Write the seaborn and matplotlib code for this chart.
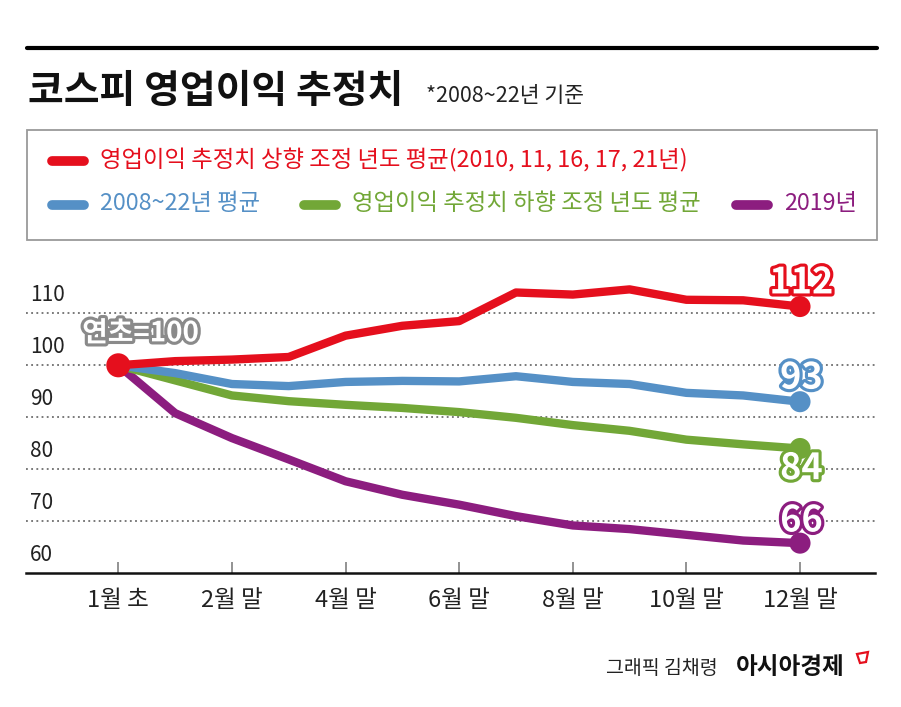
import matplotlib
matplotlib.use("Agg")
import matplotlib.pyplot as plt
import matplotlib.patheffects as pe
from matplotlib.lines import Line2D
from matplotlib.patches import Rectangle, Polygon
import seaborn as sns
import pandas as pd

# ---- data ----
months = ['1월 초', '1월 말', '2월 말', '3월 말', '4월 말', '5월 말', '6월 말',
          '7월 말', '8월 말', '9월 말', '10월 말', '11월 말', '12월 말']
tick_months = ['1월 초', '2월 말', '4월 말', '6월 말', '8월 말', '10월 말', '12월 말']
y_ticks = [60, 70, 80, 90, 100, 110]

upward = [100, 100.8, 101.1, 101.6, 105.7, 107.6, 108.5, 114.0, 113.6, 114.6, 112.6, 112.5, 111.3]
average = [100, 98.5, 96.4, 96.0, 96.8, 97.0, 96.9, 97.9, 96.8, 96.4, 94.7, 94.2, 93.0]
downward = [100, 97.1, 94.2, 93.1, 92.4, 91.8, 91.0, 89.9, 88.5, 87.4, 85.7, 84.8, 84.0]
y2019 = [100, 90.8, 86.0, 81.9, 77.7, 75.1, 73.2, 71.0, 69.2, 68.5, 67.4, 66.3, 65.8]

series_names = ['영업이익 추정치 상향 조정 년도 평균(2010, 11, 16, 17, 21년)',
                '2008~22년 평균',
                '영업이익 추정치 하향 조정 년도 평균',
                '2019년']
end_labels = ['112', '93', '84', '66']
colors = ['#e50f1d', '#5590c6', '#72a737', '#8c1d7f']

FONT = ['Noto Sans CJK KR', 'DejaVu Sans']
W, H = 901, 707


def fpx(x, y):
    """pixel position (from top-left) -> figure fraction"""
    return x / W, 1 - y / H


sns.set_theme(style="white")
plt.rcParams['font.family'] = FONT

fig = plt.figure(figsize=(W / 100, H / 100), dpi=100)
ax = fig.add_axes([26 / W, (H - 573.3) / H, (875 - 26) / W, (573.3 - 255) / H])

values = [upward, average, downward, y2019]
frames = []
for name, vals in zip(series_names, values):
    frames.append(pd.DataFrame({'idx': range(len(months)), 'month': months,
                                'value': vals, 'series': name}))
df = pd.concat(frames, ignore_index=True)

# gridlines
for yv in y_ticks[1:]:
    ax.axhline(yv, color='#555555', lw=1.1, ls=(0, (1.2, 2.2)), zorder=1)

# lines: purple first, red last (on top)
draw_order = [3, 2, 1, 0]
for z, k in enumerate(draw_order):
    sub = df[df['series'] == series_names[k]]
    sns.lineplot(data=sub, x='idx', y='value', color=colors[k], lw=6,
                 sort=False, ax=ax, zorder=3 + z, solid_joinstyle='round',
                 solid_capstyle='round')

# end markers
last = df[df['idx'] == len(months) - 1]
for k, name in enumerate(series_names):
    pt = last[last['series'] == name]
    sns.scatterplot(data=pt, x='idx', y='value', color=colors[k], s=230,
                    edgecolor='none', ax=ax, zorder=10, legend=False)
first = df[(df['idx'] == 0) & (df['series'] == series_names[0])]
sns.scatterplot(data=first, x='idx', y='value', color=colors[0], s=300,
                edgecolor='none', ax=ax, zorder=10, legend=False)

# end value labels
offsets = [17, 17, -14.5, 16]
for k in range(4):
    ax.annotate(end_labels[k], xy=(len(months) - 1, values[k][-1]),
                xytext=(1, offsets[k]), textcoords='offset points',
                ha='center', va='center', fontsize=26, fontweight='bold',
                color='white', zorder=12, family=FONT,
                path_effects=[pe.withStroke(linewidth=4.5, foreground=colors[k])])

ax.annotate('연초=100', xy=(0, upward[0]), xytext=(16, 23),
            textcoords='offset points', ha='center', va='center',
            fontsize=20, fontweight='bold', color='white', zorder=12, family=FONT,
            path_effects=[pe.withStroke(linewidth=4.5, foreground='#8a8a8a')])

# axes styling
ax.set_xlim(-1.625, 13.32)
ax.set_ylim(60, 60 + (573.3 - 255) / 5.2)
tick_pos = [months.index(m) for m in tick_months]
ax.set_xticks(tick_pos)
ax.set_xticklabels(tick_months, fontsize=17, color='#222222')
ax.tick_params(axis='x', direction='in', length=8, width=1.3, color='#8a8a8a',
               pad=11, bottom=True)
ax.set_yticks([])
ax.set_xlabel('')
ax.set_ylabel('')
for s in ['top', 'right', 'left']:
    ax.spines[s].set_visible(False)
ax.spines['bottom'].set_color('#111111')
ax.spines['bottom'].set_linewidth(1.8)

ylab = ax.get_yaxis_transform()
for yv in y_ticks:
    ax.annotate(str(yv), xy=(0.005, yv), xycoords=ylab, xytext=(0, 5),
                textcoords='offset points', ha='left', va='bottom',
                fontsize=15, color='#222222', annotation_clip=False)

# title area
fig.add_artist(Line2D([27 / W, 877 / W], [1 - 48 / H] * 2, color='black', lw=3))
fig.text(*fpx(28, 92), '코스피 영업이익 추정치', fontsize=28, fontweight='bold',
         color='#111111', ha='left', va='center')
fig.text(*fpx(426, 96), '*2008~22년 기준', fontsize=15.5, color='#222222',
         ha='left', va='center')

# legend box
fig.add_artist(Rectangle(fpx(27, 240), (877 - 27) / W, 110 / H, transform=fig.transFigure,
                         facecolor='white', edgecolor='#9a9a9a', lw=1.3))
legend_items = [(48, 161, 0), (48, 205, 1), (300, 205, 2), (732, 205, 3)]
for x0, y0, k in legend_items:
    fig.add_artist(Line2D([(x0 + 4) / W, (x0 + 36) / W], [1 - y0 / H] * 2,
                          color=colors[k], lw=7, solid_capstyle='round'))
    fig.text(*fpx(x0 + 52, y0 - 1), series_names[k], fontsize=16.8, color=colors[k],
             ha='left', va='center')

# footer
fig.text(*fpx(606, 668), '그래픽 김채령', fontsize=14, color='#222222',
         ha='left', va='center')
fig.text(*fpx(736, 667), '아시아경제', fontsize=17, fontweight='bold', color='#111111',
         ha='left', va='center')
fig.add_artist(Polygon([fpx(857, 654), fpx(868, 652), fpx(866, 662), fpx(860, 663)],
                       closed=True, transform=fig.transFigure, facecolor='none',
                       edgecolor='#e50f1d', lw=1.6))

fig.savefig('out.png', dpi=100)
